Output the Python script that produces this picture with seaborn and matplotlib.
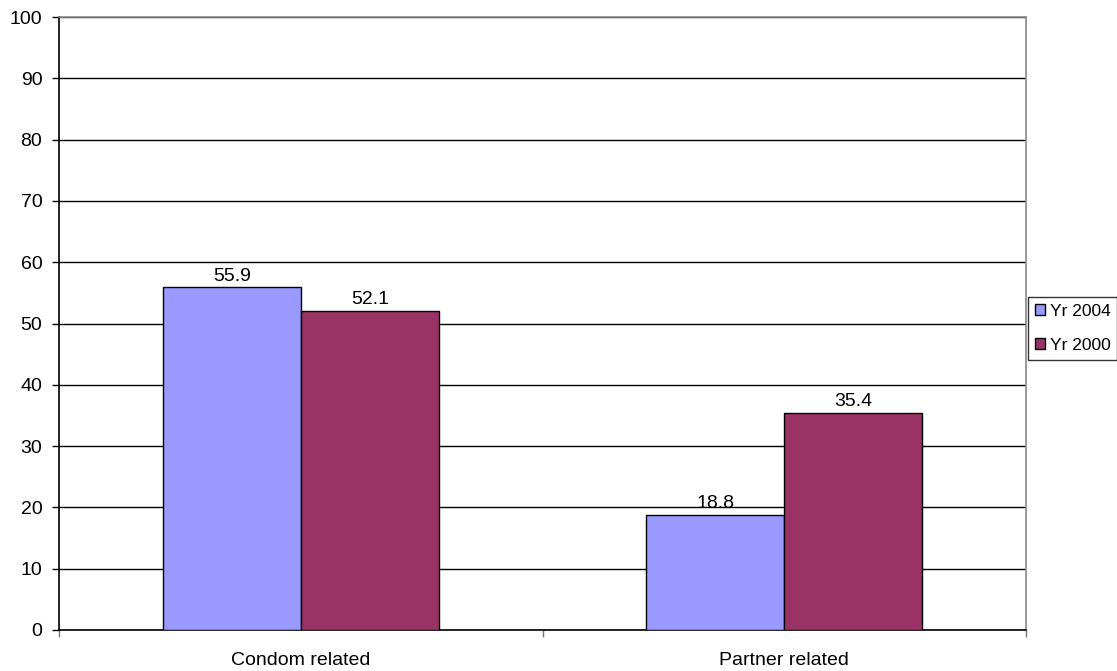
import matplotlib
matplotlib.use("Agg")
import matplotlib.pyplot as plt
import pandas as pd
import seaborn as sns

# data
categories = ["Condom related", "Partner related"]
series = ["Yr 2004", "Yr 2000"]
yr_2004 = [55.9, 18.8]
yr_2000 = [52.1, 35.4]
y_ticks = list(range(0, 101, 10))

df = pd.DataFrame({
    "category": categories * 2,
    "series": [series[0]] * 2 + [series[1]] * 2,
    "value": yr_2004 + yr_2000,
})

sns.set_style("white")
plt.rcParams["font.family"] = ["Liberation Sans", "DejaVu Sans"]
plt.rcParams["text.color"] = "black"
plt.rcParams["xtick.labelcolor"] = "black"
plt.rcParams["ytick.labelcolor"] = "black"

fig = plt.figure(figsize=(11.17, 6.71), dpi=100)
ax = fig.add_axes([59 / 1117, 1 - 630 / 671, (1026 - 59) / 1117, (630 - 17) / 671])

sns.barplot(data=df, x="category", y="value", hue="series",
            palette=["#9999FF", "#993366"], saturation=1, width=0.571,
            edgecolor="black", linewidth=1.0, ax=ax, zorder=3)

# value labels
for cont in ax.containers:
    ax.bar_label(cont, fmt="%.1f", padding=2, fontsize=14, color="black")

ax.set_xlim(-0.5, 1.5)
ax.set_ylim(0, 100)
ax.set_yticks(y_ticks)
ax.yaxis.grid(True, color="black", linewidth=1.0, zorder=0)
ax.set_axisbelow(True)

ax.set_xlabel("")
ax.set_ylabel("")

# spines like the old excel style
ax.spines["left"].set_color("black")
ax.spines["bottom"].set_color("black")
ax.spines["top"].set_color("#888888")
ax.spines["right"].set_color("#888888")
for s in ax.spines.values():
    s.set_linewidth(1.2)

ax.tick_params(axis="y", left=True, direction="out", length=5, width=1,
               color="black", labelsize=14, labelcolor="black", pad=7)
ax.tick_params(axis="x", bottom=False, labelsize=14, labelcolor="black", pad=12)

# category boundary ticks
ax.set_xticks([-0.5, 0.5, 1.5], minor=True)
ax.tick_params(axis="x", which="minor", bottom=True, direction="out",
               length=5, width=1, color="#777777")

leg = ax.legend(loc="upper left", bbox_to_anchor=(1028 / 1117, 1 - 297 / 671),
                bbox_transform=fig.transFigure, frameon=True, fancybox=False,
                fontsize=12.5, handlelength=0.6, handleheight=0.6,
                handletextpad=0.25, borderpad=0.4, labelspacing=1.1,
                borderaxespad=0)
leg.get_frame().set_edgecolor("black")
leg.get_frame().set_linewidth(1.0)
for t in leg.get_texts():
    t.set_color("black")

fig.savefig("out.png", dpi=100)
